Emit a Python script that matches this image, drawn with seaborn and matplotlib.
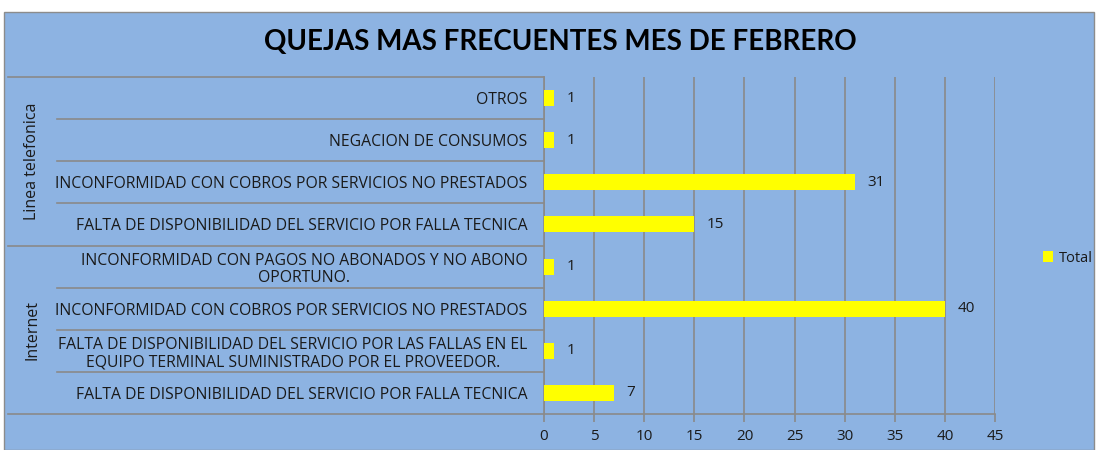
import matplotlib
matplotlib.use("Agg")
import matplotlib.pyplot as plt
import seaborn as sns
import pandas as pd
from matplotlib.patches import Rectangle, Patch
import matplotlib.transforms as mtransforms

groups = ["Linea telefonica"] * 4 + ["Internet"] * 4
items = [
    "OTROS",
    "NEGACION DE CONSUMOS",
    "INCONFORMIDAD CON COBROS POR SERVICIOS NO PRESTADOS",
    "FALTA DE DISPONIBILIDAD DEL SERVICIO POR FALLA TECNICA",
    "INCONFORMIDAD CON PAGOS NO ABONADOS Y NO ABONO\nOPORTUNO.",
    "INCONFORMIDAD CON COBROS POR SERVICIOS NO PRESTADOS",
    "FALTA DE DISPONIBILIDAD DEL SERVICIO POR LAS FALLAS EN EL\nEQUIPO TERMINAL SUMINISTRADO POR EL PROVEEDOR.",
    "FALTA DE DISPONIBILIDAD DEL SERVICIO POR FALLA TECNICA",
]
totals = [1, 1, 31, 15, 1, 40, 1, 7]
x_ticks = [0, 5, 10, 15, 20, 25, 30, 35, 40, 45]
title = "QUEJAS MAS FRECUENTES MES DE FEBRERO"
legend_label = "Total"

BG = "#8DB3E2"
GRID = "#8A8A8A"
BAR = "#FFFF00"
TXT = "#1A1A1A"
FONT = "Open Sans"
TFONT = "Lato"

W, H = 1098, 450
fig = plt.figure(figsize=(W / 100, H / 100), dpi=100)
fig.patch.set_facecolor("white")
fig.patches.append(Rectangle((4 / W, 0.0), 1090 / W, 438 / H, transform=fig.transFigure,
                             facecolor=BG, edgecolor="#8C8C8C", lw=1, zorder=-10))

left, right, top, bottom = 544, 995, 77, 414
ax = fig.add_axes([left / W, 1 - bottom / H, (right - left) / W, (bottom - top) / H])
ax.patch.set_alpha(0)

keys = [f"{g}|{i}|{n}" for n, (g, i) in enumerate(zip(groups, items))]
df = pd.DataFrame({"key": keys, "Total": totals})
sns.barplot(data=df, y="key", x="Total", orient="h", color=BAR, width=0.38,
            saturation=1, ax=ax, order=keys, zorder=3)

ax.set_xlim(0, 45)
ax.set_xticks(x_ticks)
ax.set_ylim(len(keys) - 0.5, -0.5)
ax.grid(axis="x", color=GRID, lw=1.2, zorder=0)
ax.set_axisbelow(True)
ax.set_xlabel("")
ax.set_ylabel("")
for s in ["top", "right"]:
    ax.spines[s].set_visible(False)
for s in ["left", "bottom"]:
    ax.spines[s].set_color(GRID)
    ax.spines[s].set_linewidth(1.2)
ax.tick_params(axis="x", colors=GRID, length=6, width=1.2, labelcolor=TXT, labelsize=11, pad=5)
for lab in ax.get_xticklabels():
    lab.set_fontfamily(FONT)
ax.tick_params(axis="y", length=0, pad=12)
ax.set_yticks(range(len(keys)))
ax.set_yticklabels(items, fontsize=11.3, color=TXT, fontfamily=FONT, ha="right",
                   multialignment="center", linespacing=1.15)

for c in ax.containers:
    ax.bar_label(c, padding=9, fontsize=11, color=TXT, fontfamily=FONT)

# category separators
trans = mtransforms.blended_transform_factory(fig.transFigure, ax.transData)
for b in range(len(keys) + 1):
    y = b - 0.5
    full = b == 0 or b == len(keys) or groups[b - 1] != groups[b]
    x0 = 8 / W if full else 57 / W
    ax.plot([x0, left / W], [y, y], transform=trans, color=GRID, lw=1.2, clip_on=False)

# group labels
seen = []
for g in groups:
    if g not in seen:
        seen.append(g)
for g in seen:
    idx = [i for i, gg in enumerate(groups) if gg == g]
    yc = (idx[0] + idx[-1]) / 2
    ax.text(32 / W, yc, g, transform=trans, rotation=90, ha="center", va="center",
            fontsize=11.5, color=TXT, fontfamily=FONT)

fig.text(560 / W, 1 - 42 / H, title, ha="center", va="center", fontsize=20,
         fontweight="bold", color="black", fontfamily=TFONT)

fig.legend(handles=[Patch(facecolor=BAR, edgecolor="none", label=legend_label)],
           loc="center left", bbox_to_anchor=(1030 / W, 1 - 258 / H), frameon=False,
           handlelength=0.7, handleheight=0.7, handletextpad=0.4,
           prop={"family": FONT, "size": 10.5}, labelcolor=TXT)

fig.savefig("out.png", dpi=100, facecolor=fig.get_facecolor())
